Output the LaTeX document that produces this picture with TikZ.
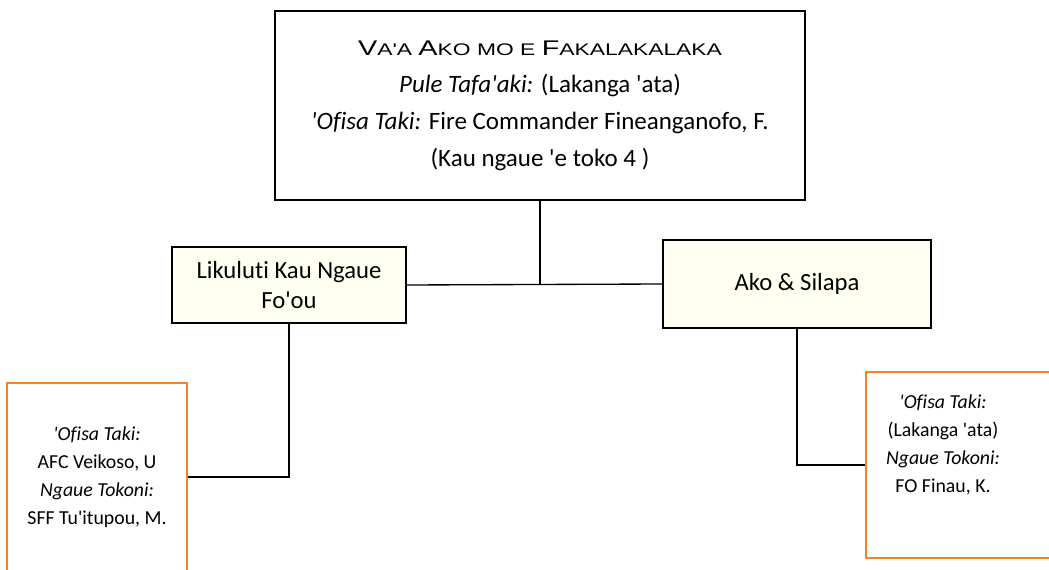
\documentclass[tikz,border=0pt]{standalone}
\usepackage{fontspec}
\setmainfont{Carlito}[Ligatures={TeXOff,NoCommon}]
\newfontfamily\capsfont{Liberation Sans}[FakeStretch=1.36,Ligatures=TeXOff]
\newcommand\capbig[1]{{\fontsize{15.9}{18}\selectfont #1}}
\newcommand\capsmall[1]{{\fontsize{12.6}{18}\selectfont #1}}
\definecolor{boxcream}{RGB}{255,255,242}
\definecolor{boxorange}{RGB}{240,134,40}
\tikzset{
  topbox/.style={draw, line width=1.5pt, fill=white, inner sep=0pt, align=center,
    minimum width=397.5pt, minimum height=141.75pt, font=\fontsize{18.75}{27.75}\selectfont},
  midbox/.style={draw, line width=1.5pt, fill=boxcream, inner sep=0pt, align=center,
    font=\fontsize{18.5}{22}\selectfont},
  orgbox/.style={draw=boxorange, line width=1.5pt, fill=white, inner sep=0pt,
    align=center, font=\fontsize{14.85}{21}\selectfont},
  orgtext/.style={inner sep=0pt, align=center, font=\fontsize{14.85}{21}\selectfont},
  link/.style={line width=1pt}
}
\begin{document}
\begin{tikzpicture}[x=0.75pt,y=0.75pt,yscale=-1]
\useasboundingbox (0,0) rectangle (1049,570);

% top
\node[topbox] (vaa) at (540,105.5) {{\capsfont\capbig{V}\capsmall{A'A }\capbig{A}\capsmall{KO MO E }\capbig{F}\capsmall{AKALAKALAKA}}\\
  \textit{Pule Tafa'aki:} (Lakanga 'ata)\\
  \textit{'Ofisa Taki:} Fire Commander Fineanganofo, F.\\
  (Kau ngaue 'e toko 4 )};

% middle row
\node[midbox, minimum width=175.5pt, minimum height=57pt] (likuluti) at (289,285) {Likuluti Kau Ngaue\\Fo'ou};
\node[midbox, minimum width=201pt, minimum height=66pt] (ako) at (797,284) {Ako \& Silapa};

% bottom row
\node[orgbox, minimum width=135pt, minimum height=141pt] (veikoso) at (97,477) {\textit{'Ofisa Taki:}\\AFC Veikoso, U\\\textit{Ngaue Tokoni:}\\SFF Tu'itupou, M.};
\node[orgbox, minimum width=145.5pt, minimum height=139.5pt] (finau) at (963,465) {};
\node[orgtext] (finautext) at (943,445) {\textit{'Ofisa Taki:}\\(Lakanga 'ata)\\\textit{Ngaue Tokoni:}\\FO Finau, K.};

% connectors
\draw[link] (likuluti.east) -- (ako.west);
\draw[link] (vaa.south) -- (vaa.south |- likuluti.east);
\draw[link] (likuluti.south) |- (veikoso.east);
\draw[link] (ako.south) |- (finau.west);
\end{tikzpicture}
\end{document}
